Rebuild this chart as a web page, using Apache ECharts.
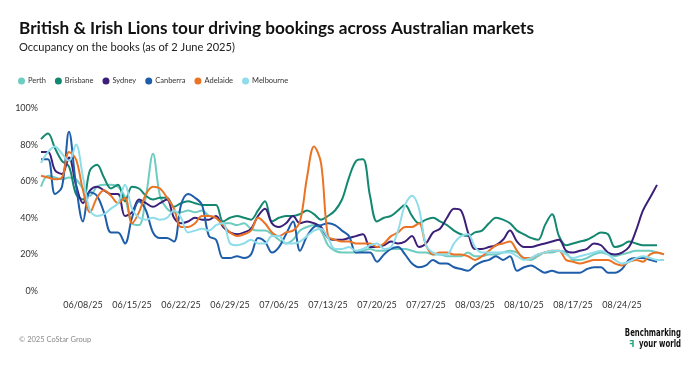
<!DOCTYPE html>
<html><head><meta charset="utf-8">
<script src="https://cdn.jsdelivr.net/npm/echarts@6/dist/echarts.min.js"></script>
<style>html,body{margin:0;padding:0;background:#fff}#c{width:700px;height:366px}</style>
</head><body><div id="c"></div>
<script>
const dates = [
"06/02/25","06/03/25","06/04/25","06/05/25","06/06/25","06/07/25","06/08/25","06/09/25","06/10/25","06/11/25",
"06/12/25","06/13/25","06/14/25","06/15/25","06/16/25","06/17/25","06/18/25","06/19/25","06/20/25","06/21/25",
"06/22/25","06/23/25","06/24/25","06/25/25","06/26/25","06/27/25","06/28/25","06/29/25","06/30/25","07/01/25",
"07/02/25","07/03/25","07/04/25","07/05/25","07/06/25","07/07/25","07/08/25","07/09/25","07/10/25","07/11/25",
"07/12/25","07/13/25","07/14/25","07/15/25","07/16/25","07/17/25","07/18/25","07/19/25","07/20/25","07/21/25",
"07/22/25","07/23/25","07/24/25","07/25/25","07/26/25","07/27/25","07/28/25","07/29/25","07/30/25","07/31/25",
"08/01/25","08/02/25","08/03/25","08/04/25","08/05/25","08/06/25","08/07/25","08/08/25","08/09/25","08/10/25",
"08/11/25","08/12/25","08/13/25","08/14/25","08/15/25","08/16/25","08/17/25","08/18/25","08/19/25","08/20/25",
"08/21/25","08/22/25","08/23/25","08/24/25","08/25/25","08/26/25","08/27/25","08/28/25","08/29/25","08/30/25"];

const seriesNames = ["Perth","Brisbane","Sydney","Canberra","Adelaide","Melbourne"];

const perth = [
57,63,62,61,62,61,56,52,57,58,
58,57,51,37,36,52,75,52,45,43,
43,44,43,44,41,40,37,37,36,37,
34,33,33,31,28,26,28,33,35,36,
33,25,22,21,21,21,22,23,22,22,
23,23,23,22,21,21,20,20,19,19,
19,21,19,19,20,20,21,22,21,18,
17,19,21,21,22,21,17,17,18,20,
21,20,19,20,21,22,22,22,21,20];

const brisbane = [
83,86,78,71,68,53,50,66,69,62,
56,58,49,57,56,52,50,51,51,46,
48,49,48,47,47,47,38,40,41,40,
39,44,49,38,40,41,41,42,44,42,
39,41,44,50,62,71,72,52,38,40,
41,44,47,41,37,39,40,38,36,33,
31,30,32,33,37,40,39,37,33,31,
29,28,36,42,30,25,26,27,28,30,
32,31,24,25,27,26,25,25,25,null];

const sydney = [
76,76,66,64,73,58,48,55,57,55,
53,53,41,43,50,48,46,48,50,40,
37,38,40,39,39,41,35,32,31,32,
34,41,45,37,35,37,41,37,38,37,
35,29,28,28,29,30,31,24,24,25,
27,26,27,30,24,26,32,34,40,45,
44,32,23,23,24,25,28,33,27,24,
24,25,26,27,28,22,21,22,23,26,
25,21,20,21,24,33,44,51,58,null];

const canberra = [
72,72,53,57,87,58,38,54,52,43,
32,32,26,40,49,44,32,29,29,27,
47,53,51,47,30,28,18,18,19,18,
20,29,27,21,24,31,38,22,30,35,
36,37,36,33,30,21,21,21,16,20,
23,24,20,15,13,14,17,15,15,13,
12,11,14,16,17,19,17,19,11,13,
14,12,10,11,10,10,10,10,12,13,
13,10,10,12,17,18,18,17,16,null];

const adelaide = [
63,62,61,62,76,72,55,43,51,55,
52,48,51,37,43,53,57,56,51,45,
35,35,37,41,41,40,36,32,30,31,
33,40,37,32,30,32,33,38,62,79,
70,30,28,27,27,26,26,26,24,26,
30,32,35,35,37,25,20,21,21,20,
20,19,17,19,22,25,26,27,22,18,
18,20,21,22,22,17,16,15,16,17,
17,17,15,14,16,17,16,20,21,20];

const melbourne = [
70,76,79,75,71,80,62,44,41,42,
45,48,58,45,40,39,40,39,40,44,
40,32,33,34,33,36,37,26,25,26,
28,26,26,30,30,26,26,27,30,33,
34,29,23,23,24,22,23,25,26,23,
24,33,47,52,45,25,21,20,20,26,
30,31,24,21,21,21,21,21,19,17,
18,20,21,22,22,20,18,19,20,21,
22,20,17,15,16,18,19,18,17,17];

const yTicks = [0,20,40,60,80,100];

const colors = ["#6FCCC0","#13876F","#3B1F78","#1E5DAA","#EB7324","#8FDCEA"];
const FONT = "Lato";
const values = [perth, brisbane, sydney, canberra, adelaide, melbourne];

const chart = echarts.init(document.getElementById('c'), null, {renderer:'canvas'});
chart.setOption({
  animation:false,
  color: colors,
  textStyle:{fontFamily:FONT},
  title:[
    {text:"British & Irish Lions tour driving bookings across Australian markets", left:14, top:15, padding:5,
     textStyle:{fontFamily:FONT, fontWeight:'bold', fontSize:17.2, color:'#111'}},
    {text:"Occupancy on the books (as of 2 June 2025)", left:14, top:37, padding:5,
     textStyle:{fontFamily:FONT, fontWeight:'normal', fontSize:11.1, color:'#222'}}
  ],
  legend:{
    data: seriesNames, left:13, top:72, icon:'circle', itemWidth:7, itemHeight:7, itemGap:9,
    textStyle:{fontFamily:FONT, fontSize:7.5, color:'#333', padding:[0,0,0,-2]}
  },
  grid:{left:41, right:36, top:108, bottom:75, containLabel:false},
  xAxis:{
    type:'category', data:dates, boundaryGap:false,
    axisLine:{show:false}, axisTick:{show:false}, splitLine:{show:false},
    axisLabel:{interval:(idx)=> (idx-6)%7===0, margin:10, fontFamily:FONT, fontSize:9, color:'#333'}
  },
  yAxis:{
    type:'value', min:yTicks[0], max:yTicks[yTicks.length-1], interval:20,
    axisLine:{show:false}, axisTick:{show:false}, splitLine:{show:false},
    axisLabel:{formatter:'{value}%', margin:3, fontFamily:FONT, fontSize:9, color:'#333'}
  },
  series: seriesNames.map((n,k)=>({
    name:n, type:'line', data:values[k], smooth:0.35, showSymbol:false, symbol:'none',
    lineStyle:{width:2}, connectNulls:false
  })),
  graphic:[
    {type:'text', left:19, top:336, style:{text:"© 2025 CoStar Group", font:"7.5px "+FONT, fill:'#8a8a8a'}},
    {type:'text', x:681, y:328, scaleX:0.7, style:{text:"Benchmarking", font:"bold 11px 'DejaVu Sans Condensed'", fill:'#111', align:'right', verticalAlign:'top'}},
    {type:'text', x:681, y:339, scaleX:0.7, style:{text:"your world", font:"bold 11px 'DejaVu Sans Condensed'", fill:'#111', align:'right', verticalAlign:'top'}},
    {type:'text', x:629, y:341, style:{text:"ꟻ", font:"bold 8px 'DejaVu Sans'", fill:'#2aa683', verticalAlign:'top'}}
  ]
});
</script></body></html>
